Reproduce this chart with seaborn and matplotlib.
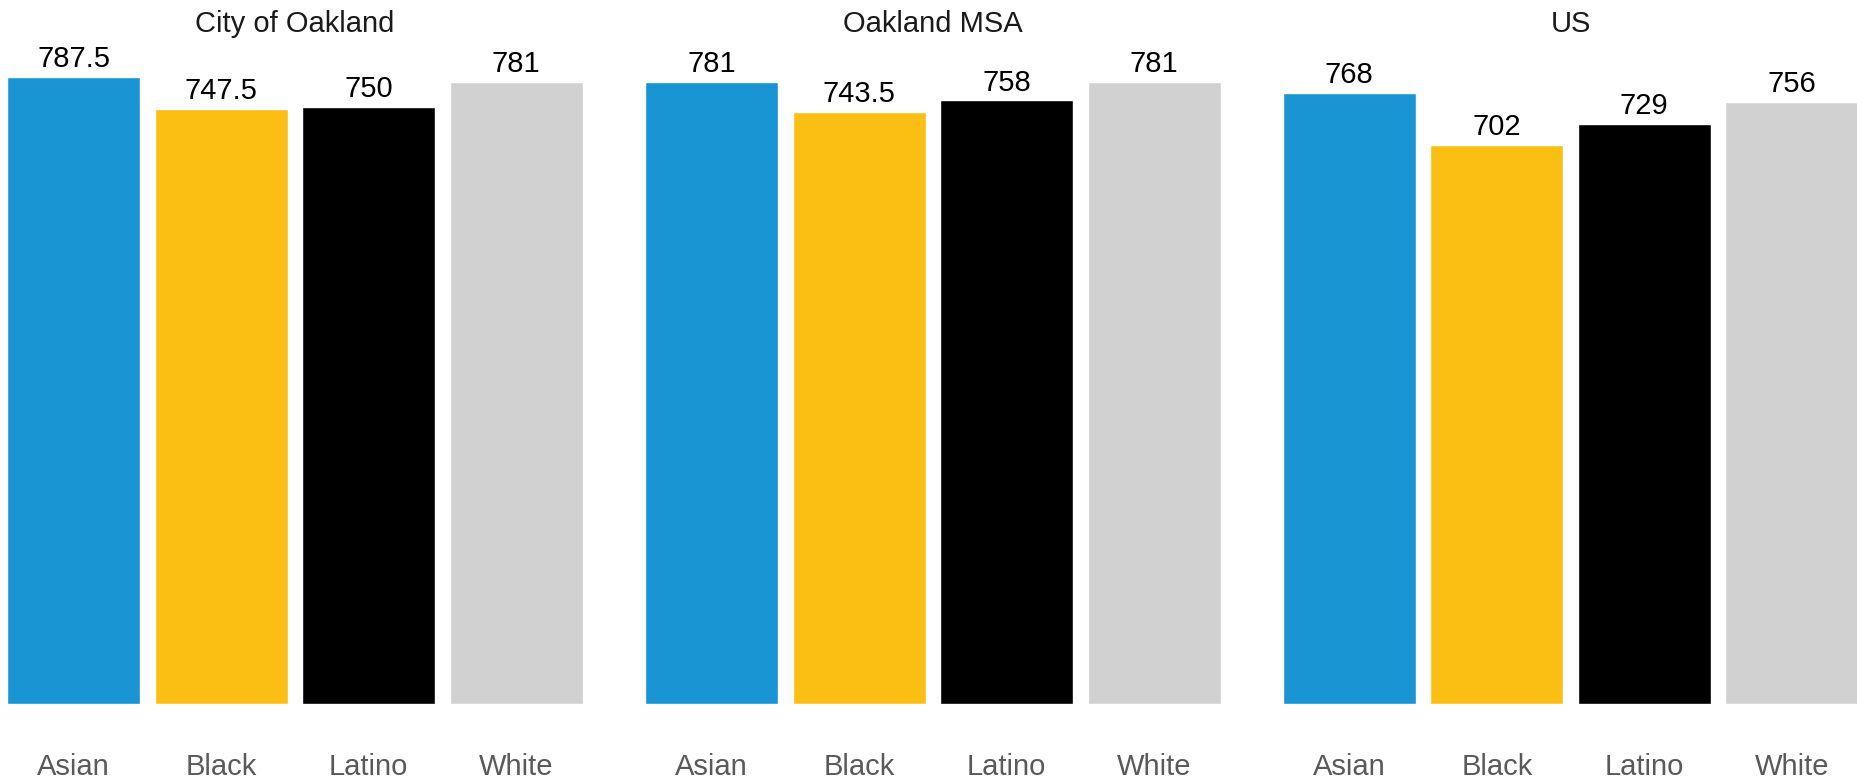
import matplotlib
matplotlib.use("Agg")
import matplotlib.pyplot as plt
import seaborn as sns
import pandas as pd

# Median credit score by race/ethnicity for three geographies
groups = ["Asian", "Black", "Latino", "White"]
regions = ["City of Oakland", "Oakland MSA", "US"]
city_of_oakland = [787.5, 747.5, 750, 781]
oakland_msa = [781, 743.5, 758, 781]
united_states = [768, 702, 729, 756]

series = [city_of_oakland, oakland_msa, united_states]
colors = ["#1995D3", "#FBBF14", "#000000", "#D1D1D1"]

sns.set_style("white")
plt.rcParams["font.family"] = ["Liberation Sans", "DejaVu Sans"]

W, H = 1857, 778
fig = plt.figure(figsize=(W / 100, H / 100), dpi=100)

panel_left = [0, 638, 1275.5]
panel_w = 590
bottom_px = 74
ymax = 850
axis_h = ymax * 0.7962

for i, (region, vals) in enumerate(zip(regions, series)):
    df = pd.DataFrame({"group": groups, "score": vals})
    ax = fig.add_axes([panel_left[i] / W, bottom_px / H, panel_w / W, axis_h / H])
    sns.barplot(data=df, x="group", y="score", hue="group", palette=colors,
                order=groups, hue_order=groups, width=0.9, legend=False,
                saturation=1, ax=ax)
    ax.set_xlim(-0.5, 3.5)
    ax.set_ylim(0, ymax)
    ax.set_xlabel("")
    ax.set_ylabel("")
    ax.set_yticks([])
    sns.despine(ax=ax, left=True, bottom=True)
    ax.tick_params(axis="x", length=0, pad=35, labelsize=21, labelcolor="#595959")

    for patch, v in zip(ax.patches, vals):
        ax.annotate(f"{v:g}", xy=(patch.get_x() + patch.get_width() / 2, v),
                    xytext=(0, 7), textcoords="offset points",
                    ha="center", va="baseline", fontsize=21, color="#000000")

    fig.text((panel_left[i] + panel_w / 2) / W, (H - 32) / H, region,
             ha="center", va="baseline", fontsize=21, color="#1a1a1a")

fig.savefig("out.png", dpi=100)
